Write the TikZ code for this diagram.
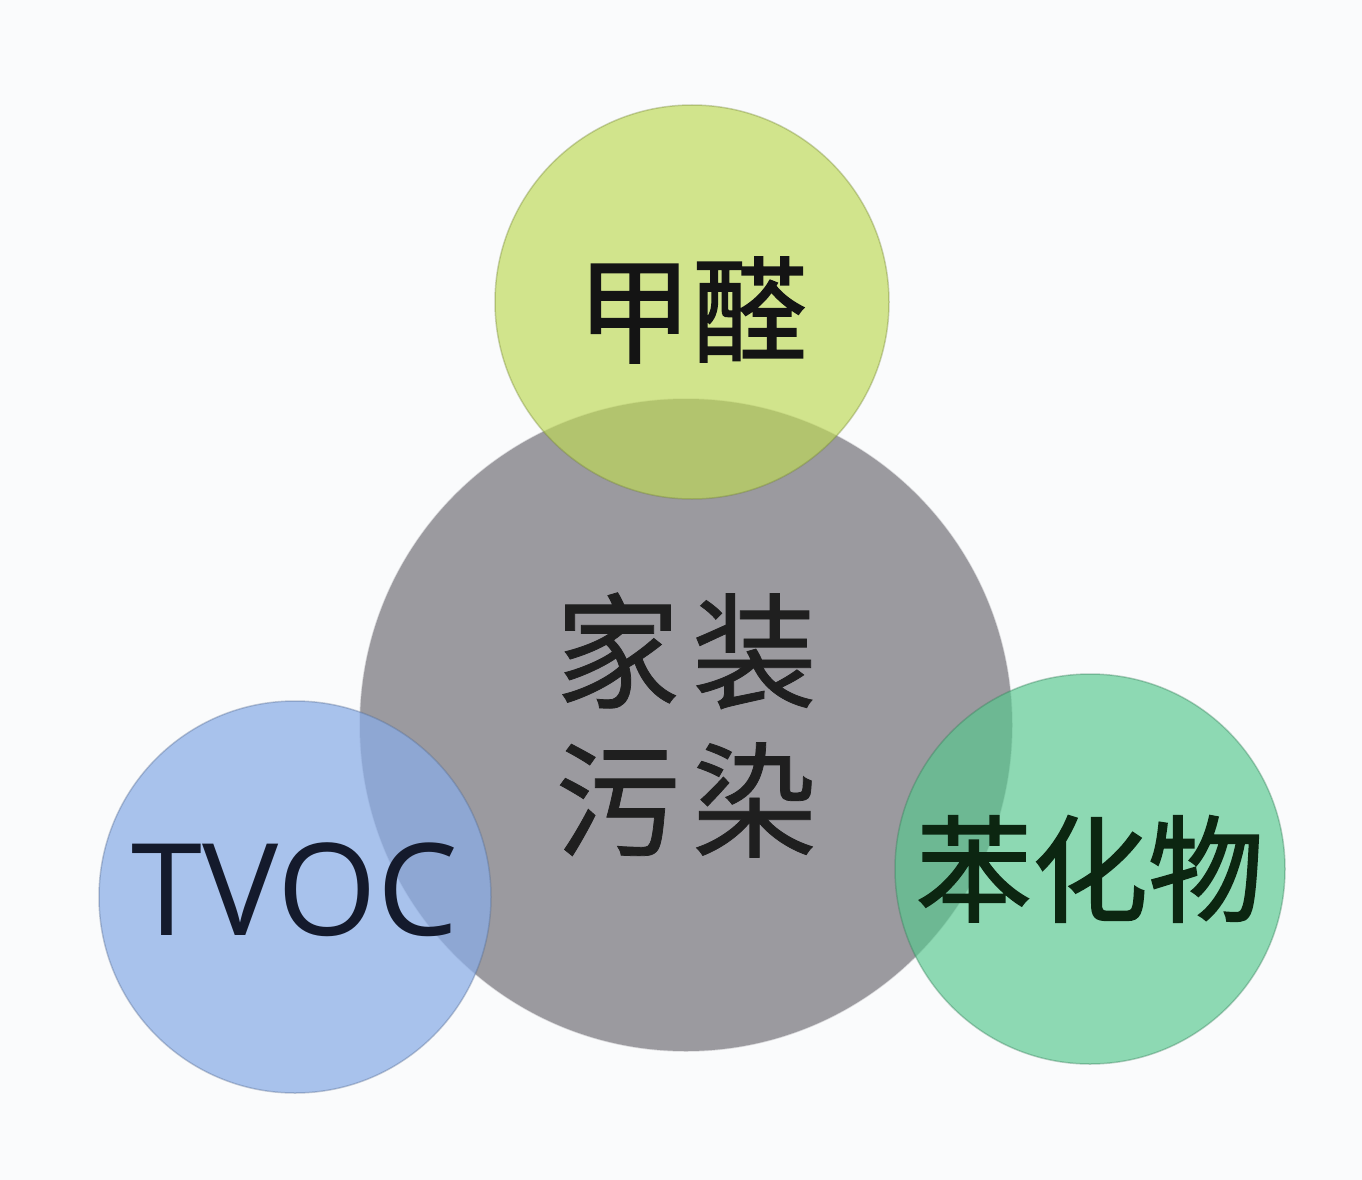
\documentclass[tikz,border=0pt]{standalone}
\usepackage{fontspec}
\setmainfont{Open Sans}
\newfontfamily\cjk[FakeBold=0.6]{Noto Sans CJK SC}
\newfontfamily\cjkheavy[FakeBold=1.5]{Noto Sans CJK SC}

\definecolor{paper}{RGB}{250,251,252}
\definecolor{homegray}{RGB}{155,154,159}
\definecolor{limefill}{RGB}{190,217,86}
\definecolor{skyfill}{RGB}{138,173,231}
\definecolor{mintfill}{RGB}{86,200,142}
\definecolor{inkgreen}{RGB}{12,38,17}
\definecolor{inknavy}{RGB}{20,26,44}

\begin{document}
\begin{tikzpicture}[x=1pt,y=-1pt,
  bubble/.style={circle,inner sep=0pt,align=center,text opacity=1,
    draw opacity=0.35,line width=1.5pt}]
\fill[paper] (0,0) rectangle (1362,1180);
\useasboundingbox (0,0) rectangle (1362,1180);
% big circle first, the three small ones lie over it
\node[bubble,minimum size=652pt,fill=homegray,draw=homegray,text=black!88,
  font={\cjk\fontsize{125}{149}\selectfont}] (home) at (686,725)
  {家\kern12pt 装\\污\kern12pt 染};
\node[bubble,minimum size=394pt,fill=limefill,fill opacity=0.67,draw=limefill!60!black,
  label={[yshift=-8pt,text=black!92,font={\cjkheavy\fontsize{115}{115}\selectfont}]center:甲醛}]
  (hcho) at (692,302) {};
\node[bubble,minimum size=392pt,fill=skyfill,fill opacity=0.73,draw=skyfill!60!black,
  label={[yshift=7pt,text=inknavy,font={\fontsize{128}{128}\selectfont}]center:TVOC}]
  (tvoc) at (295,897) {};
\node[bubble,minimum size=390pt,fill=mintfill,fill opacity=0.66,draw=mintfill!60!black,
  text=inkgreen,font={\cjkheavy\fontsize{116}{116}\selectfont}] (benzene) at (1090,869)
  {苯化物};
\end{tikzpicture}
\end{document}
